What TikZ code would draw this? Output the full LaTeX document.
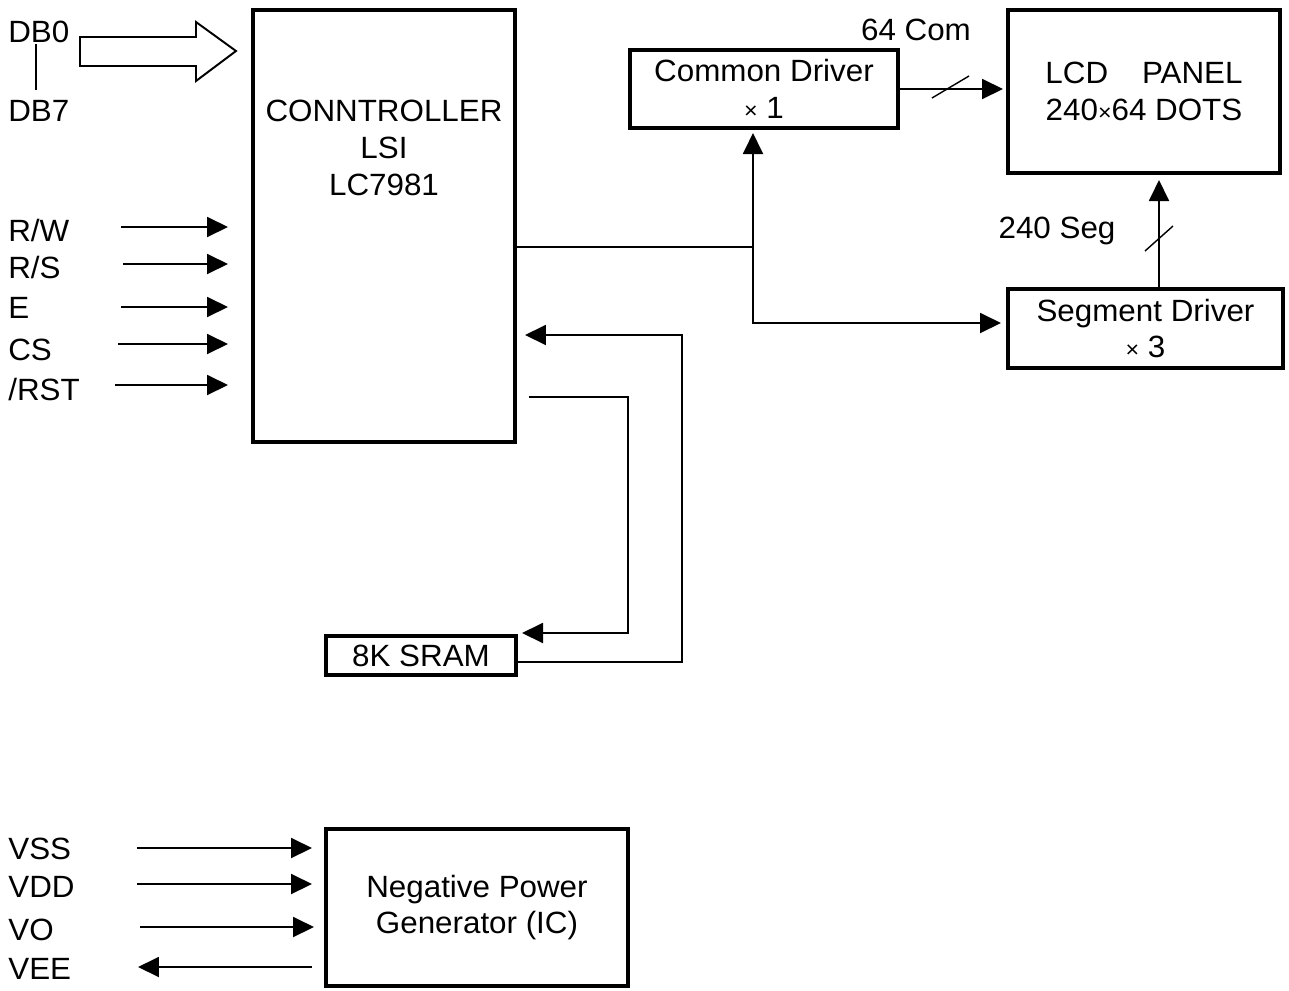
\documentclass[tikz,border=0pt]{standalone}
\usepackage{fontspec}
\setmainfont{Liberation Sans}[FakeStretch=1.02]
\usetikzlibrary{arrows.meta}
\newcommand{\smx}{{\fontsize{13}{13}\selectfont ×}}
\begin{document}
\begin{tikzpicture}[x=0.02cm,y=-0.02cm,
  font=\fontsize{17.5}{21}\selectfont,
  box/.style={draw,line width=2.3pt,inner sep=0pt,align=center},
  wire/.style={line width=1.1pt},
  arr/.style={wire,-{Triangle[length=0.42cm,width=0.4cm]}},
  lbl/.style={anchor=base west,inner sep=0pt},
  txt/.style={inner sep=0pt,align=center},
  slash/.style={line width=0.8pt}]
\useasboundingbox (0,0) rectangle (1289,991);

% boxes
\node[box,minimum width=5.24cm,minimum height=8.64cm] (ctrl) at (384,226) {};
\node[txt] (ctrltxt) at (384,148) {CONNTROLLER\\LSI\\LC7981};
\node[box,minimum width=5.36cm,minimum height=1.56cm] (com) at (764,89) {Common Driver\\\smx\ 1};
\node[box,minimum width=5.44cm,minimum height=3.26cm] (lcd) at (1144,91.5) {LCD\hspace{1.1em}PANEL\\240\smx 64 DOTS};
\node[box,minimum width=5.5cm,minimum height=1.58cm] (seg) at (1145.5,328.5) {Segment Driver\\\smx\ 3};
\node[box,minimum width=3.8cm,minimum height=0.78cm] (sram) at (421,655.5) {8K SRAM};
\node[box,minimum width=6.04cm,minimum height=3.14cm] (pwr) at (477,907.5) {Negative Power\\Generator (IC)};

% data bus
\node[lbl] (db0) at (8,42) {DB0};
\node[lbl] (db7) at (8,121) {DB7};
\draw[wire] (36,44) -- (36,90);
\draw[line width=1.1pt] (80,37) -- (196,37) -- (196,22) -- (236,51) -- (196,81) -- (196,66) -- (80,66) -- cycle;

% control signals
\node[lbl] (rw) at (8,241) {R/W};
\node[lbl] (rs) at (8,278) {R/S};
\node[lbl] (e) at (8,318) {E};
\node[lbl] (cs) at (8,360) {CS};
\node[lbl] (rst) at (8,400) {/RST};
\coordinate (rw0) at (121,227);
\coordinate (rs0) at (123,264);
\coordinate (e0) at (121,307);
\coordinate (cs0) at (118,344);
\coordinate (rst0) at (115,385);
\foreach \c in {rw0,rs0,e0,cs0,rst0}
  \draw[arr,shorten >=0.46cm] (\c) -- (\c -| ctrl.west);

% controller to drivers
\coordinate (j) at (753,247);
\coordinate (j2) at (753,323);
\draw[wire] (j -| ctrl.east) -- (j);
\draw[arr,shorten >=0.06cm] (j) -- (j |- com.south);
\draw[arr,shorten >=0.1cm] (j) -- (j2) -- (j2 -| seg.west);

% drivers to LCD
\draw[arr,shorten >=0.06cm] (com.east) -- (com.east -| lcd.west);
\draw[slash] (932,98) -- (969,76);
\node[txt] (com64) at (916,30) {64 Com};
\coordinate (s0) at (1159,289);
\draw[arr,shorten >=0.1cm] (s0) -- (s0 |- lcd.south);
\draw[slash] (1145,251) -- (1173,226);
\node[txt] (seg240) at (1057,231) {240 Seg};

% SRAM connections
\coordinate (r1) at (682,335);
\draw[arr,shorten >=0.16cm] ([yshift=-0.13cm]sram.east) -| (r1) -- (r1 -| ctrl.east);
\coordinate (r2) at (628,397);
\coordinate (r3) at (628,633);
\draw[arr,shorten >=0.08cm] ([xshift=0.24cm]ctrl.east |- r2) -- (r2) -- (r3) -- (r3 -| sram.east);

% power
\node[lbl] (vss) at (8,859) {VSS};
\node[lbl] (vdd) at (8,897) {VDD};
\node[lbl] (vo) at (8,940) {VO};
\node[lbl] (vee) at (8,979) {VEE};
\coordinate (p1) at (137,848);
\coordinate (p2) at (137,884);
\coordinate (p3) at (140,927);
\coordinate (p4) at (138,967);
\draw[arr,shorten >=0.24cm] (p1) -- (p1 -| pwr.west);
\draw[arr,shorten >=0.24cm] (p2) -- (p2 -| pwr.west);
\draw[arr,shorten >=0.2cm] (p3) -- (p3 -| pwr.west);
\draw[arr,shorten <=0.24cm] (p4 -| pwr.west) -- (p4);
\end{tikzpicture}
\end{document}
